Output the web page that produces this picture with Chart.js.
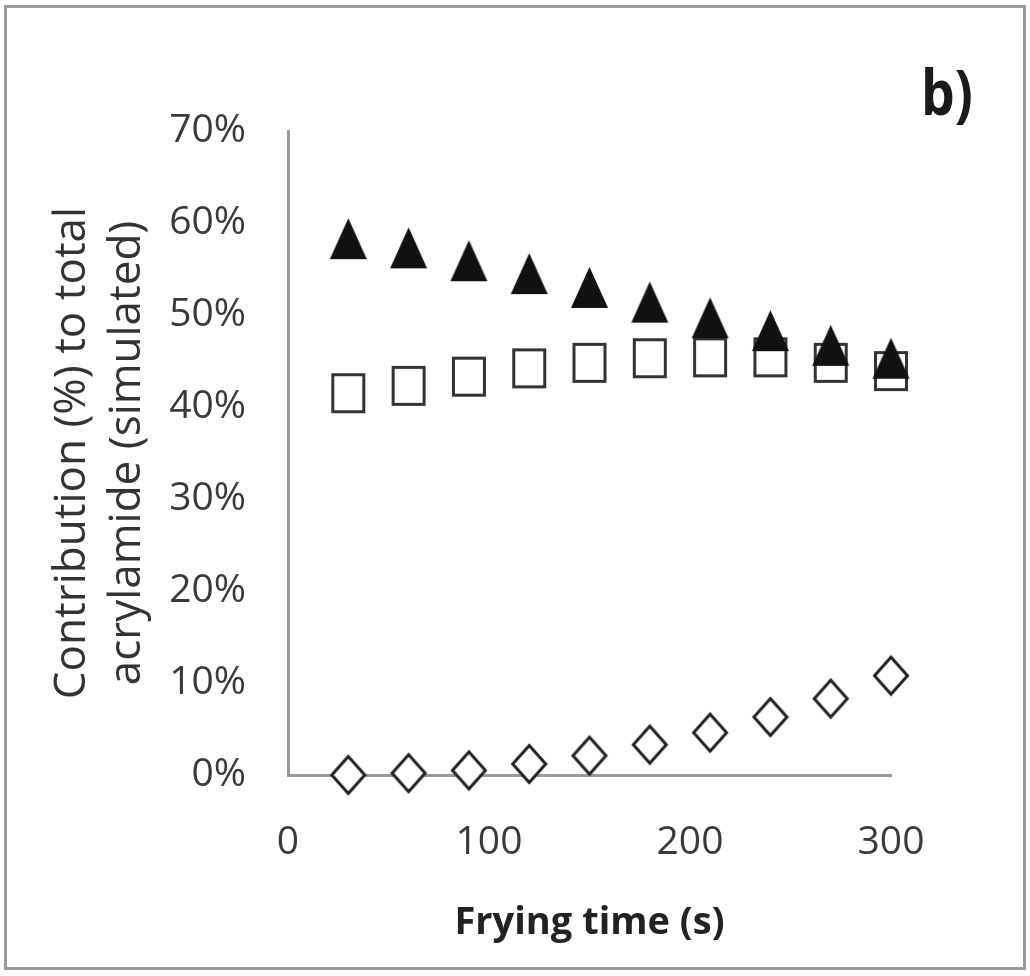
<!DOCTYPE html>
<html><head><meta charset="utf-8">
<script src="https://cdn.jsdelivr.net/npm/chart.js@4.4.1/dist/chart.umd.min.js"></script>
<style>html,body{margin:0;padding:0;background:#fff}canvas{display:block}</style>
</head><body>
<canvas id="c" width="1030" height="976"></canvas>
<script>
// ---- data ----
const fryingTime = [30, 60, 90, 120, 150, 180, 210, 240, 270, 300];
const seriesTriangle = [58.3, 57.3, 55.9, 54.5, 53.0, 51.4, 49.7, 48.3, 46.7, 45.3];
const seriesSquare = [41.5, 42.3, 43.3, 44.2, 44.8, 45.3, 45.4, 45.4, 44.8, 43.9];
const seriesDiamond = [0.0, 0.2, 0.5, 1.2, 2.1, 3.3, 4.6, 6.3, 8.3, 10.8];
const xTickValues = [0, 100, 200, 300];
const xTickLabels = ['0', '100', '200', '300'];
const yTickValues = [0, 10, 20, 30, 40, 50, 60, 70];
const yTickLabels = ['0%', '10%', '20%', '30%', '40%', '50%', '60%', '70%'];
const xTitle = 'Frying time (s)';
const yTitle = ['Contribution (%) to total', 'acrylamide (simulated)'];
const panelLabel = 'b)';

// ---- marker images ----
function marker(kind, w, h) {
  const pad = 3;
  const cv = document.createElement('canvas');
  cv.width = w + pad * 2; cv.height = h + pad * 2;
  const c = cv.getContext('2d');
  c.translate(pad, pad);
  c.lineJoin = 'miter';
  if (kind === 'triangle') {
    c.beginPath(); c.moveTo(w / 2, 0); c.lineTo(w, h); c.lineTo(0, h); c.closePath();
    c.fillStyle = '#111'; c.fill();
  } else if (kind === 'square') {
    c.fillStyle = '#fff'; c.fillRect(1.5, 1.5, w - 3, h - 3);
    c.strokeStyle = '#333'; c.lineWidth = 3; c.strokeRect(1.5, 1.5, w - 3, h - 3);
  } else {
    c.beginPath(); c.moveTo(w / 2, 1.5); c.lineTo(w - 1.5, h / 2); c.lineTo(w / 2, h - 1.5); c.lineTo(1.5, h / 2); c.closePath();
    c.fillStyle = '#fff'; c.fill();
    c.strokeStyle = '#222'; c.lineWidth = 3; c.stroke();
  }
  return cv;
}
const triImg = marker('triangle', 37, 41);
const sqImg = marker('square', 34, 40);
const diaImg = marker('diamond', 36, 40);

const toPts = arr => fryingTime.map((t, i) => ({ x: t, y: arr[i] }));

const framePlugin = {
  id: 'frame',
  beforeDraw(chart) {
    const c = chart.ctx;
    c.save();
    c.fillStyle = '#fff'; c.fillRect(0, 0, chart.width, chart.height);
    c.strokeStyle = '#9a9a9a'; c.lineWidth = 3;
    c.strokeRect(5.5, 6.5, 1019, 962);
    c.restore();
  },
  afterDraw(chart) {
    const c = chart.ctx;
    c.save();
    c.fillStyle = '#1a1a1a';
    c.font = 'bold 58px "Open Sans"';
    c.textAlign = 'center'; c.textBaseline = 'middle';
    c.translate(947, 97);
    c.scale(0.92, 1.08);
    c.fillText(panelLabel, 0, 0);
    c.restore();
  }
};

const PAD_LEFT = 20, PAD_BOTTOM = 30;
const AREA_LEFT = 288, AREA_RIGHT = 891, AREA_TOP = 131, AREA_BOTTOM = 775;
const FONT = '"Open Sans"';

new Chart(document.getElementById('c'), {
  type: 'scatter',
  data: {
    datasets: [
      { label: 'triangle', data: toPts(seriesTriangle), pointStyle: triImg, pointRadius: 18, pointHoverRadius: 18, clip: false },
      { label: 'square', data: toPts(seriesSquare), pointStyle: sqImg, pointRadius: 18, pointHoverRadius: 18, clip: false },
      { label: 'diamond', data: toPts(seriesDiamond), pointStyle: diaImg, pointRadius: 18, pointHoverRadius: 18, clip: false }
    ]
  },
  options: {
    responsive: false,
    animation: false,
    events: [],
    layout: { padding: { left: PAD_LEFT, right: 1030 - AREA_RIGHT, top: AREA_TOP, bottom: PAD_BOTTOM } },
    plugins: { legend: { display: false }, tooltip: { enabled: false } },
    scales: {
      x: {
        type: 'linear', min: 0, max: 300,
        afterBuildTicks: s => { s.ticks = xTickValues.map(v => ({ value: v })); },
        afterFit: s => { s.height = 976 - PAD_BOTTOM - AREA_BOTTOM; },
        grid: { display: false, drawTicks: false },
        border: { display: true, color: '#9a9a9a', width: 3 },
        ticks: {
          padding: 44, color: '#3a3a3a', font: { family: FONT, size: 39 },
          callback: v => xTickLabels[xTickValues.indexOf(v)]
        },
        title: { display: true, text: xTitle, color: '#222', font: { family: FONT, size: 38, weight: 'bold', lineHeight: 1.2 }, padding: { top: 0, bottom: 0 } }
      },
      y: {
        type: 'linear', min: 0, max: 70,
        afterBuildTicks: s => { s.ticks = yTickValues.map(v => ({ value: v })); },
        afterFit: s => { s.width = AREA_LEFT - PAD_LEFT; },
        grid: { display: false, drawTicks: false },
        border: { display: true, color: '#9a9a9a', width: 3 },
        ticks: {
          padding: 42, color: '#3a3a3a', font: { family: FONT, size: 39 },
          callback: v => yTickLabels[yTickValues.indexOf(v)]
        },
        title: { display: true, text: yTitle, color: '#333', font: { family: FONT, size: 44, lineHeight: 1.25 }, padding: { top: 25, bottom: 0 } }
      }
    }
  },
  plugins: [framePlugin]
});
</script>
</body></html>
